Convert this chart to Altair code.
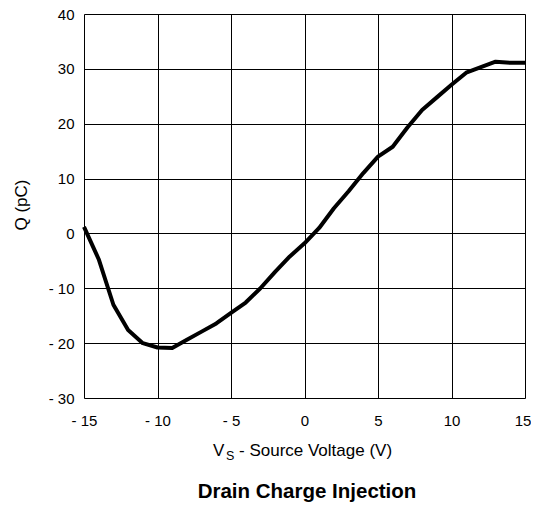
import altair as alt
import pandas as pd

# Data
vs = list(range(-15, 16))
q = [1.2, -4.7, -13.0, -17.6, -20.0, -20.8, -20.9, -19.4, -17.9, -16.4,
     -14.5, -12.6, -10.0, -7.0, -4.2, -1.8, 1.0, 4.6, 7.7, 11.0,
     14.0, 15.8, 19.3, 22.5, 24.8, 27.1, 29.3, 30.3, 31.3, 31.1, 31.1]
x_ticks = [-15, -10, -5, 0, 5, 10, 15]
y_ticks = [-30, -20, -10, 0, 10, 20, 30, 40]
title_text = "Drain Charge Injection"
y_title = "Q (pC)"
x_title_main = "V"
x_title_sub = "S"
x_title_rest = "- Source Voltage (V)"

FONT = "Liberation Sans"
W, H = 441, 384

df = pd.DataFrame({"vs": vs, "q": q})
one = pd.DataFrame({"k": [0]})

label_expr = "datum.value < 0 ? '- ' + abs(datum.value) : '' + datum.value"

line = alt.Chart(df).mark_line(color="black", strokeWidth=4, strokeJoin="round").encode(
    x=alt.X("vs:Q", scale=alt.Scale(domain=[-15, 15], nice=False, zero=False),
            axis=alt.Axis(values=x_ticks, title=None, labelExpr=label_expr,
                          grid=True, ticks=False, tickSize=0, domain=False,
                          labelPadding=15, labelFontSize=15, labelFont=FONT,
                          labelColor="black", gridColor="black", gridWidth=1,
                          gridOpacity=1, labelFlush=False,
                          labelOffset=alt.condition("datum.value == 15", alt.value(-2.5), alt.value(0)))),
    y=alt.Y("q:Q", scale=alt.Scale(domain=[-30, 40], nice=False, zero=False),
            axis=alt.Axis(values=y_ticks, title=None, labelExpr=label_expr,
                          grid=True, ticks=False, tickSize=0, domain=False,
                          labelPadding=10, labelFontSize=15, labelFont=FONT,
                          labelColor="black", gridColor="black", gridWidth=1,
                          gridOpacity=1, labelFlush=False)),
)

def txt(text, x, y, size, weight="normal", align="left", angle=0):
    return alt.Chart(one).mark_text(
        text=text, font=FONT, fontSize=size, fontWeight=weight, align=align,
        baseline="alphabetic", angle=angle, color="black"
    ).encode(x=alt.value(x), y=alt.value(y))

t_v = txt(x_title_main, 129, 442, 17)
t_s = txt(x_title_sub, 142, 446, 12.5)
t_rest = txt(x_title_rest, 155, 442, 17)
t_y = txt(y_title, -57, 191, 17, align="center", angle=270)
t_title = txt(title_text, 223, 484, 20.5, weight="bold", align="center")

chart = alt.layer(line, t_v, t_s, t_rest, t_y, t_title).properties(
    width=W, height=H,
    autosize=alt.AutoSizeParams(type="none"),
    padding={"left": 76, "top": 6, "right": 6, "bottom": 108},
).configure_view(stroke="black", strokeWidth=2).configure(background="white")

chart.save("out.html", embed_options={"renderer": "svg", "actions": False})
